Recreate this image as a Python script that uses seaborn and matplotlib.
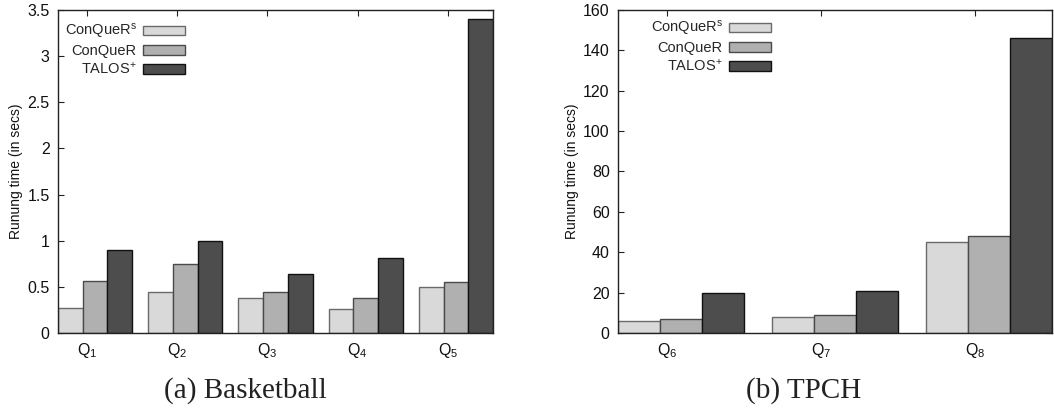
import numpy as np
import pandas as pd
import matplotlib
matplotlib.use("Agg")
import matplotlib.pyplot as plt
from matplotlib.patches import Patch
import seaborn as sns

# Running times per query and method
methods = ["ConQueR$^{s}$", "ConQueR", "TALOS$^{+}$"]
basket_queries = ["Q$_{1}$", "Q$_{2}$", "Q$_{3}$", "Q$_{4}$", "Q$_{5}$"]
basket_conquer_s = [0.27, 0.44, 0.38, 0.26, 0.50]
basket_conquer = [0.56, 0.75, 0.44, 0.38, 0.55]
basket_talos = [0.90, 1.00, 0.64, 0.81, 3.40]

tpch_queries = ["Q$_{6}$", "Q$_{7}$", "Q$_{8}$"]
tpch_conquer_s = [6, 8, 45]
tpch_conquer = [7, 9, 48]
tpch_talos = [20, 21, 146]

fill_colors = ["#d9d9d9", "#b0b0b0", "#4d4d4d"]
edge_colors = ["#6a6a6a", "#4a4a4a", "#111111"]

sns.set_theme(style="white")
plt.rcParams["font.family"] = ["Liberation Sans", "DejaVu Sans"]
plt.rcParams["mathtext.fontset"] = "custom"
plt.rcParams["mathtext.rm"] = "Liberation Sans"
plt.rcParams["mathtext.it"] = "Liberation Sans:italic"
plt.rcParams["mathtext.default"] = "regular"


def long_frame(queries, series):
    rows = []
    for m, vals in zip(methods, series):
        for q, v in zip(queries, vals):
            rows.append({"query": q, "method": m, "time": v})
    return pd.DataFrame(rows)


def draw(ax, queries, series, ymax, ystep, legend_anchor):
    df = long_frame(queries, series)
    group_w = 0.822
    sns.barplot(data=df, x="query", y="time", hue="method", order=queries,
                hue_order=methods, palette=fill_colors, width=group_w, gap=0,
                saturation=1, linewidth=1.0, ax=ax, legend=False)
    for cont, ec in zip(ax.containers, edge_colors):
        for p in cont:
            p.set_edgecolor(ec)
            p.set_linewidth(1.0)
    n = len(queries)
    ax.set_axisbelow(True)
    ax.set_xlim(-group_w / 2, n - 1 + group_w / 2)
    ax.set_ylim(0, ymax)
    yt = np.arange(0, ymax + ystep / 2, ystep)
    ax.set_yticks(yt)
    ax.set_yticklabels([f"{v:g}" for v in yt])
    ax.set_xticks(np.arange(n) - 0.09)
    ax.set_xticklabels(queries)
    ax.tick_params(axis="both", direction="in", length=4, width=0.8,
                   color="#222222", labelsize=11.5, labelcolor="#111111",
                   top=True, right=True, bottom=True, left=True)
    ax.tick_params(axis="y", pad=6)
    ax.tick_params(axis="x", pad=6)
    for s in ax.spines.values():
        s.set_color("#222222")
        s.set_linewidth(1.0)
        s.set_zorder(3)
    ax.set_xlabel("")
    ax.set_ylabel("Runung time (in secs)", fontsize=10, color="#111111", labelpad=3)
    handles = [Patch(facecolor=fc, edgecolor=ec, linewidth=1.0)
               for fc, ec in zip(fill_colors, edge_colors)]
    ax.legend(handles, methods, loc="upper right", bbox_to_anchor=legend_anchor,
              frameon=False, markerfirst=False, fontsize=10.5, handlelength=2.9,
              handleheight=0.65, handletextpad=0.4, labelspacing=0.2,
              borderpad=0, borderaxespad=0)


fig = plt.figure(figsize=(10.54, 4.12), dpi=100)
ax1 = fig.add_axes([58 / 1054, 1 - 333 / 412, 435 / 1054, 323 / 412])
ax2 = fig.add_axes([618 / 1054, 1 - 333 / 412, 434 / 1054, 323 / 412])

draw(ax1, basket_queries, [basket_conquer_s, basket_conquer, basket_talos],
     3.5, 0.5, ((185 - 58) / 435, 1 - (22 - 10) / 323))
draw(ax2, tpch_queries, [tpch_conquer_s, tpch_conquer, tpch_talos],
     160, 20, ((771 - 618) / 434, 1 - (19 - 10) / 323))

fig.text(245 / 1054, 1 - 391 / 412, "(a) Basketball", ha="center", va="center",
         family="Liberation Serif", fontsize=21, color="#222222")
fig.text(804 / 1054, 1 - 391 / 412, "(b) TPCH", ha="center", va="center",
         family="Liberation Serif", fontsize=21, color="#222222")

fig.savefig("out.png", dpi=100)
